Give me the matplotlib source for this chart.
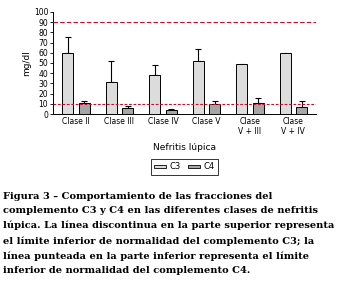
import numpy as np
import matplotlib.pyplot as plt
from matplotlib.patches import Patch

clases = ['Clase II', 'Clase III', 'Clase IV', 'Clase V', 'Clase\nV + III', 'Clase\nV + IV']
c3 = [60, 31, 38, 52, 49, 60]
c3_err = [15, 21, 10, 12, 0, 0]
c4 = [11, 6, 4, 10, 11, 7]
c4_err = [2, 2, 1, 3, 5, 6]
lim_c3 = 90
lim_c4 = 10

fig = plt.figure(figsize=(3.38, 2.83), dpi=100)
ax = fig.add_axes([0.158, 0.597, 0.777, 0.361])

x = np.arange(len(clases))
w = 0.255
off = 0.19
zeros = np.zeros(len(clases))
ax.bar(x - off, c3, w, color='#dcdcdc', edgecolor='black', lw=0.7, zorder=2)
ax.bar(x + off, c4, w, color='#a6a6a6', edgecolor='black', lw=0.7, zorder=2)
e3 = [v if v > 0 else np.nan for v in c3_err]
ax.errorbar(x - off, c3, yerr=[zeros, e3], fmt='none', ecolor='black',
            elinewidth=0.8, capsize=2.5, capthick=0.8, zorder=1)
ax.errorbar(x + off, c4, yerr=[zeros, c4_err], fmt='none', ecolor='black',
            elinewidth=0.8, capsize=2.5, capthick=0.8, zorder=1)

ax.axhline(lim_c3, color='#c8102e', ls=(0, (4, 2)), lw=0.8, zorder=3)
ax.axhline(lim_c4, color='#c8102e', ls=(0, (2.5, 1.5)), lw=0.8, zorder=3)

ax.set_xlim(-0.52, 5.52)
ax.set_ylim(0, 100)
ax.set_yticks(range(0, 101, 10))
ax.set_xticks(x)
ax.set_xticklabels(clases, fontsize=5.5)
ax.tick_params(axis='y', labelsize=5.5, length=2.5, width=0.6, pad=1.2)
ax.tick_params(axis='x', length=0, pad=2)
for s in ['top', 'right']:
    ax.spines[s].set_visible(False)
for s in ['left', 'bottom']:
    ax.spines[s].set_linewidth(0.7)
ax.set_ylabel('mg/dl', fontsize=6.5, labelpad=2)
ax.set_xlabel('Nefritis lúpica', fontsize=6.5, labelpad=5)

handles = [Patch(facecolor='#dcdcdc', edgecolor='black', lw=0.6),
           Patch(facecolor='#a6a6a6', edgecolor='black', lw=0.6)]
leg = fig.legend(handles, ['C3', 'C4'], loc='center', bbox_to_anchor=(0.545, 0.41),
                 ncol=2, fontsize=6, frameon=True, fancybox=False,
                 handlelength=1.5, handleheight=0.35, handletextpad=0.4,
                 columnspacing=0.8, borderpad=0.4)
leg.get_frame().set_edgecolor('black')
leg.get_frame().set_linewidth(0.7)

caption = ('Figura 3 – Comportamiento de las fracciones del\n'
           'complemento C3 y C4 en las diferentes clases de nefritis\n'
           'lúpica. La línea discontinua en la parte superior representa\n'
           'el límite inferior de normalidad del complemento C3; la\n'
           'línea punteada en la parte inferior representa el límite\n'
           'inferior de normalidad del complemento C4.')
fig.text(0.01, 0.322, caption, fontsize=7.1, family='DejaVu Serif',
         fontweight='bold', va='top', ha='left', linespacing=1.76)

fig.savefig('out.png', dpi=100)
